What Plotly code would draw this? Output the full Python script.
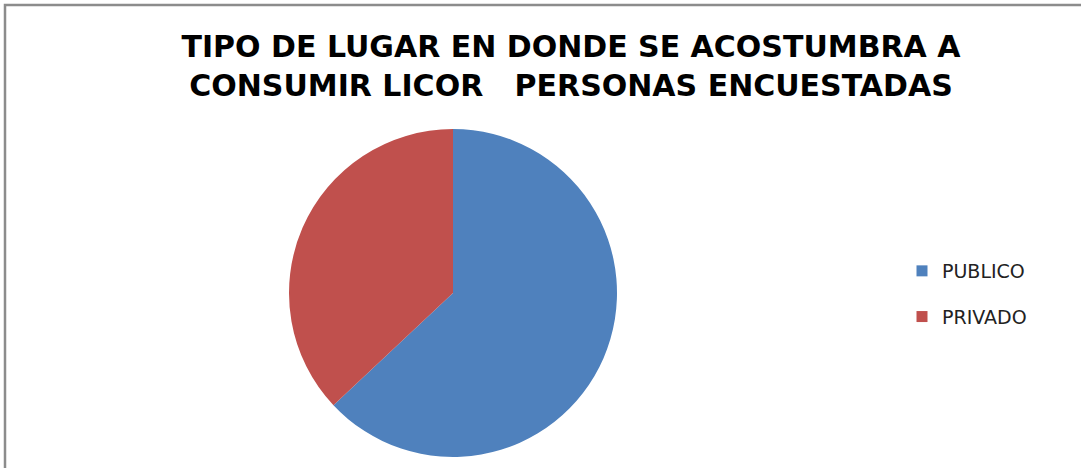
import plotly.graph_objects as go

labels = ["PUBLICO", "PRIVADO"]
values = [63, 37]
colors = ["#4F81BD", "#C0504D"]
title_text = "TIPO DE LUGAR EN DONDE SE ACOSTUMBRA A<br>CONSUMIR LICOR   PERSONAS ENCUESTADAS"

W, H = 1081, 468
cx, cy, r = 453, 293, 164

fig = go.Figure()
fig.add_trace(go.Pie(
    labels=labels, values=values, sort=False, direction="clockwise", rotation=0,
    marker=dict(colors=colors, line=dict(width=0)),
    textinfo="none", hoverinfo="label+value+percent", showlegend=False,
    domain=dict(x=[(cx - r) / W, (cx + r) / W], y=[(H - cy - r) / H, (H - cy + r) / H]),
))
for lab, col in zip(labels, colors):
    fig.add_trace(go.Scatter(
        x=[None], y=[None], mode="markers", name=lab, legendgroup=lab,
        marker=dict(symbol="square", size=11, color=col),
    ))

fig.update_layout(
    width=W, height=H,
    margin=dict(l=0, r=0, t=0, b=0),
    paper_bgcolor="white", plot_bgcolor="white",
    xaxis=dict(visible=False), yaxis=dict(visible=False),
    title=dict(text=title_text, x=571 / W, xanchor="center", y=1 - 57 / H, yanchor="top",
               font=dict(family="DejaVu Sans", size=30, color="black", weight="bold")),
    legend=dict(x=902 / W, xanchor="left", y=1 - 252 / H, yanchor="top",
                font=dict(family="DejaVu Sans", size=19, color="#222222"),
                tracegroupgap=18, bgcolor="rgba(0,0,0,0)"),
    shapes=[dict(type="rect", xref="paper", yref="paper", x0=5 / W, x1=1.05, y0=-0.05, y1=1 - 5 / H,
                 line=dict(color="#8C8C8C", width=2.5), fillcolor="rgba(0,0,0,0)", layer="above")],
)
fig.write_html("out.html")
